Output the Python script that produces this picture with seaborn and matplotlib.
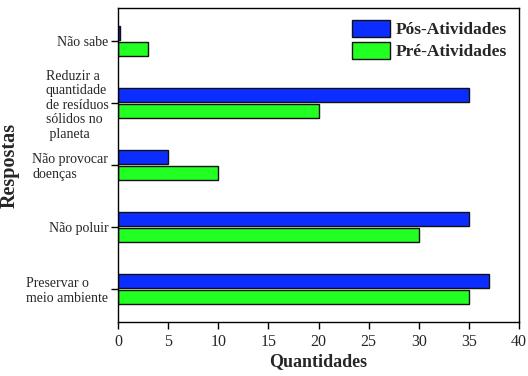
import pandas as pd
import numpy as np
import matplotlib
matplotlib.use('Agg')
import matplotlib.pyplot as plt
import seaborn as sns

# data
respostas = ['Não sabe',
             'Reduzir a\nquantidade\nde resíduos\nsólidos no\n planeta',
             'Não provocar\ndoenças',
             'Não poluir',
             'Preservar o\nmeio ambiente']
pos_atividades = [0.15, 35, 5, 35, 37]
pre_atividades = [3, 20, 10, 30, 35]
grupos = ['Pós-Atividades', 'Pré-Atividades']
cores = ['#0b2dff', '#22ff22']

df = pd.DataFrame({
    'Respostas': respostas * 2,
    'Quantidades': pos_atividades + pre_atividades,
    'Grupo': [grupos[0]] * len(respostas) + [grupos[1]] * len(respostas),
})

sns.set_style('white')
plt.rcParams['font.family'] = ['Liberation Serif', 'DejaVu Serif']

fig = plt.figure(figsize=(5.28, 3.76), dpi=100)
ax = fig.add_axes([0.2235, 0.144, 0.7595, 0.8345])

sns.barplot(data=df, y='Respostas', x='Quantidades', hue='Grupo',
            order=respostas, hue_order=grupos, palette=cores,
            orient='h', width=0.52, gap=0.15, edgecolor='#111111',
            linewidth=1, saturation=1, ax=ax)

ax.set_xlim(0, 40)
ax.set_xticks(np.arange(0, 41, 5))
ax.set_ylim(4.53, -0.53)

for s in ax.spines.values():
    s.set_color('black')
    s.set_linewidth(1)

ax.tick_params(axis='both', direction='out', length=5, width=1, color='black',
               bottom=True, left=True)
ax.tick_params(axis='x', labelsize=11.5, pad=4)
ax.tick_params(axis='y', labelsize=10, pad=2)
for t in ax.get_yticklabels():
    t.set_multialignment('left')
    t.set_linespacing(1.15)

ax.set_xlabel('Quantidades', fontsize=13, fontweight='bold', labelpad=2)
ax.set_ylabel('Respostas', fontsize=14.5, fontweight='bold')
ax.yaxis.set_label_coords(-0.245, 0.5)

ax.legend(loc='upper right', frameon=False, prop={'size': 12.5, 'weight': 'bold'},
          handlelength=2.2, handleheight=1.1, handletextpad=0.3,
          labelspacing=0.2, borderaxespad=0.3)

fig.savefig('out.png', dpi=100)
